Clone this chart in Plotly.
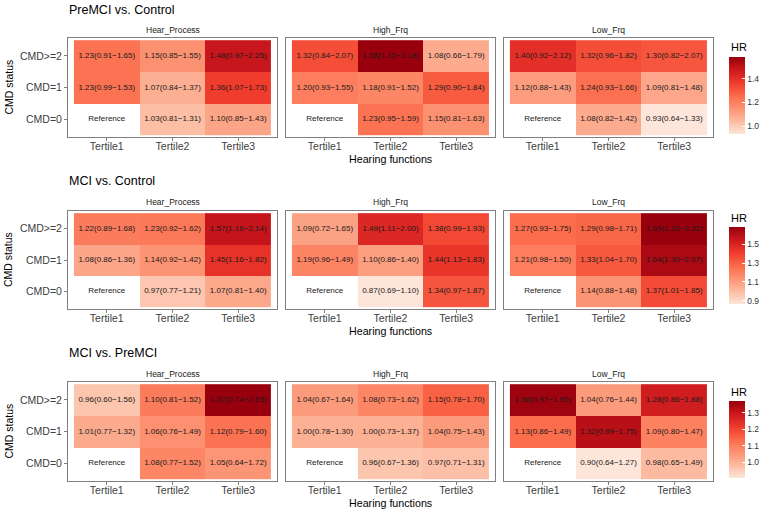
import plotly.graph_objects as go

W, H = 767, 514

tertiles = ["Tertile1", "Tertile2", "Tertile3"]
cmd_levels = ["CMD=0", "CMD=1", "CMD>=2"]
facets = ["Hear_Process", "High_Frq", "Low_Frq"]
comparisons = ["PreMCI vs. Control", "MCI vs. Control", "MCI vs. PreMCI"]

# rows: CMD=0, CMD=1, CMD>=2 ; cols: Tertile1..3 ; None = reference group
# PreMCI vs. Control
pc_hear_hr = [[None, 1.03, 1.10], [1.23, 1.07, 1.36], [1.23, 1.15, 1.48]]
pc_hear_lo = [[None, 0.81, 0.85], [0.99, 0.84, 1.07], [0.91, 0.85, 0.97]]
pc_hear_hi = [[None, 1.31, 1.43], [1.53, 1.37, 1.73], [1.65, 1.55, 2.25]]
pc_high_hr = [[None, 1.23, 1.15], [1.20, 1.18, 1.29], [1.32, 1.58, 1.08]]
pc_high_lo = [[None, 0.95, 0.81], [0.93, 0.91, 0.90], [0.84, 1.15, 0.66]]
pc_high_hi = [[None, 1.59, 1.63], [1.55, 1.52, 1.84], [2.07, 2.18, 1.79]]
pc_low_hr = [[None, 1.08, 0.93], [1.12, 1.24, 1.09], [1.40, 1.32, 1.30]]
pc_low_lo = [[None, 0.82, 0.64], [0.88, 0.93, 0.81], [0.92, 0.96, 0.82]]
pc_low_hi = [[None, 1.42, 1.33], [1.43, 1.66, 1.48], [2.12, 1.82, 2.07]]

# MCI vs. Control
mc_hear_hr = [[None, 0.97, 1.07], [1.08, 1.14, 1.45], [1.22, 1.23, 1.57]]
mc_hear_lo = [[None, 0.77, 0.81], [0.86, 0.92, 1.16], [0.89, 0.92, 1.16]]
mc_hear_hi = [[None, 1.21, 1.40], [1.36, 1.42, 1.82], [1.68, 1.62, 2.14]]
mc_high_hr = [[None, 0.87, 1.34], [1.19, 1.10, 1.44], [1.09, 1.49, 1.38]]
mc_high_lo = [[None, 0.69, 0.97], [0.96, 0.86, 1.13], [0.72, 1.11, 0.99]]
mc_high_hi = [[None, 1.10, 1.87], [1.49, 1.40, 1.83], [1.65, 2.00, 1.93]]
mc_low_hr = [[None, 1.14, 1.37], [1.21, 1.33, 1.64], [1.27, 1.29, 1.69]]
mc_low_lo = [[None, 0.88, 1.01], [0.98, 1.04, 1.30], [0.93, 0.98, 1.23]]
mc_low_hi = [[None, 1.48, 1.85], [1.50, 1.70, 2.07], [1.75, 1.71, 2.32]]

# MCI vs. PreMCI
mp_hear_hr = [[None, 1.08, 1.05], [1.01, 1.06, 1.12], [0.96, 1.10, 1.37]]
mp_hear_lo = [[None, 0.77, 0.64], [0.77, 0.76, 0.79], [0.60, 0.81, 0.74]]
mp_hear_hi = [[None, 1.52, 1.72], [1.32, 1.49, 1.60], [1.56, 1.52, 2.53]]
mp_high_hr = [[None, 0.96, 0.97], [1.00, 1.00, 1.04], [1.04, 1.08, 1.15]]
mp_high_lo = [[None, 0.67, 0.71], [0.78, 0.73, 0.75], [0.67, 0.73, 0.78]]
mp_high_hi = [[None, 1.36, 1.31], [1.30, 1.37, 1.43], [1.64, 1.62, 1.70]]
mp_low_hr = [[None, 0.90, 0.98], [1.13, 1.32, 1.09], [1.36, 1.04, 1.28]]
mp_low_lo = [[None, 0.64, 0.65], [0.86, 0.99, 0.80], [0.97, 0.76, 0.86]]
mp_low_hi = [[None, 1.27, 1.49], [1.49, 1.75, 1.47], [1.90, 1.44, 1.88]]

colorbar_ticks = [[1.0, 1.2, 1.4], [0.9, 1.1, 1.3, 1.5], [1.0, 1.1, 1.2, 1.3]]

panels = [
    [(pc_hear_hr, pc_hear_lo, pc_hear_hi), (pc_high_hr, pc_high_lo, pc_high_hi), (pc_low_hr, pc_low_lo, pc_low_hi)],
    [(mc_hear_hr, mc_hear_lo, mc_hear_hi), (mc_high_hr, mc_high_lo, mc_high_hi), (mc_low_hr, mc_low_lo, mc_low_hi)],
    [(mp_hear_hr, mp_hear_lo, mp_hear_hi), (mp_high_hr, mp_high_lo, mp_high_hi), (mp_low_hr, mp_low_lo, mp_low_hi)],
]

reds = ["#FEE5D9", "#FCBBA1", "#FC9272", "#FB6A4A", "#EF3B2C", "#CB181D", "#99000D"]
colorscale = [[i / (len(reds) - 1), c] for i, c in enumerate(reds)]

FONT = "Liberation Sans, Arial, sans-serif"
TICKCOL = "#404040"
BORDER = "#7F7F7F"

# layout in pixels
col_x = [(68, 277), (286, 495), (504, 713)]
row_y = [(38, 137), (211, 309), (382, 481)]
title_y = [10, 181, 353]
strip_y = [30, 202, 374]
xtitle_y = [159, 331, 503]
cbar_mid = [95.8, 265, 440]
hr_y = [47, 218, 392]


def px_x(v):
    return v / W


def px_y(v):
    return 1 - v / H


fig = go.Figure()
layout = {}
annotations = []

for r in range(3):
    vals = [v for (hr, lo, hi) in panels[r] for row in hr for v in row if v is not None]
    cax = "coloraxis" if r == 0 else f"coloraxis{r + 1}"
    layout[cax] = dict(
        colorscale=colorscale,
        cmin=min(vals),
        cmax=max(vals),
        colorbar=dict(
            x=px_x(729), xanchor="left", y=px_y(cbar_mid[r]), yanchor="middle",
            lenmode="pixels", len=77, thicknessmode="pixels", thickness=16,
            outlinewidth=0, xpad=0, ypad=0,
            tickmode="array", tickvals=colorbar_ticks[r],
            ticktext=[f"{t:.1f}" for t in colorbar_ticks[r]],
            ticks="inside", tickcolor="white", ticklen=3,
            tickfont=dict(family=FONT, size=8.5, color="#333333"),
        ),
    )
    annotations.append(dict(
        text=comparisons[r], xref="paper", yref="paper", x=px_x(67), y=px_y(title_y[r]),
        xanchor="left", yanchor="middle", showarrow=False,
        font=dict(family=FONT, size=12.5, color="black")))
    annotations.append(dict(
        text="CMD status", xref="paper", yref="paper", x=px_x(8), y=px_y((row_y[r][0] + row_y[r][1]) / 2),
        xanchor="center", yanchor="middle", showarrow=False, textangle=-90,
        font=dict(family=FONT, size=10.5, color="black")))
    annotations.append(dict(
        text="Hearing functions", xref="paper", yref="paper", x=px_x((col_x[1][0] + col_x[1][1]) / 2),
        y=px_y(xtitle_y[r]), xanchor="center", yanchor="middle", showarrow=False,
        font=dict(family=FONT, size=10.7, color="black")))
    annotations.append(dict(
        text="HR", xref="paper", yref="paper", x=px_x(729), y=px_y(hr_y[r]),
        xanchor="left", yanchor="middle", showarrow=False,
        font=dict(family=FONT, size=11, color="black")))

    for c in range(3):
        n = r * 3 + c + 1
        xa = "x" if n == 1 else f"x{n}"
        ya = "y" if n == 1 else f"y{n}"
        hr, lo, hi = panels[r][c]
        fig.add_trace(go.Heatmap(
            x=tertiles, y=cmd_levels, z=hr, coloraxis=cax,
            xaxis=xa, yaxis=ya, hoverinfo="skip", xgap=0, ygap=0))
        tx, ty, tt = [], [], []
        for i in range(3):
            for j in range(3):
                tx.append(tertiles[j])
                ty.append(cmd_levels[i])
                if hr[i][j] is None:
                    tt.append("Reference")
                else:
                    tt.append(f"{hr[i][j]:.2f}({lo[i][j]:.2f}\u2212{hi[i][j]:.2f})")
        fig.add_trace(go.Scatter(
            x=tx, y=ty, text=tt, mode="text", xaxis=xa, yaxis=ya,
            textfont=dict(family=FONT, size=8, color="#1a1a1a"),
            hoverinfo="skip", showlegend=False))
        xk = "xaxis" if n == 1 else f"xaxis{n}"
        yk = "yaxis" if n == 1 else f"yaxis{n}"
        layout[xk] = dict(
            domain=[px_x(col_x[c][0]), px_x(col_x[c][1])], anchor=ya,
            type="category", categoryorder="array", categoryarray=tertiles,
            range=[-0.59, 2.59], showgrid=False, zeroline=False,
            showline=True, mirror=True, linecolor=BORDER, linewidth=1,
            ticks="outside", ticklen=3, tickcolor=BORDER, tickwidth=1,
            ticklabelstandoff=-4,
            tickfont=dict(family=FONT, size=10.5, color=TICKCOL), fixedrange=True)
        layout[yk] = dict(
            domain=[px_y(row_y[r][1]), px_y(row_y[r][0])], anchor=xa,
            type="category", categoryorder="array", categoryarray=cmd_levels,
            range=[-0.57, 2.57], showgrid=False, zeroline=False,
            showline=True, mirror=True, linecolor=BORDER, linewidth=1,
            ticks="outside" if c == 0 else "", ticklen=3, tickcolor=BORDER, tickwidth=1,
            showticklabels=(c == 0),
            tickfont=dict(family=FONT, size=10.5, color=TICKCOL), fixedrange=True)
        annotations.append(dict(
            text=facets[c], xref="paper", yref="paper",
            x=px_x((col_x[c][0] + col_x[c][1]) / 2), y=px_y(strip_y[r]),
            xanchor="center", yanchor="middle", showarrow=False,
            font=dict(family=FONT, size=8.5, color="#1a1a1a")))

fig.update_layout(
    width=W, height=H, margin=dict(l=0, r=0, t=0, b=0),
    paper_bgcolor="white", plot_bgcolor="white", showlegend=False,
    annotations=annotations, font=dict(family=FONT), **layout)

fig.write_html("out.html")
